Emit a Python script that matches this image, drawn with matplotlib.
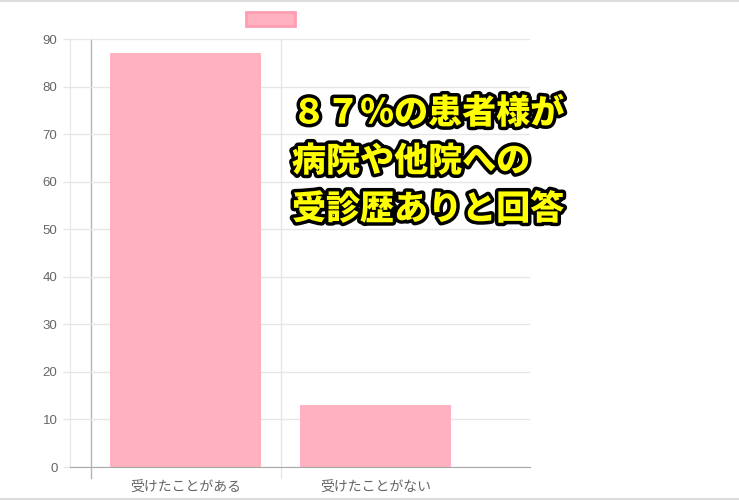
import matplotlib
matplotlib.use('Agg')
import matplotlib.pyplot as plt
from matplotlib.patches import Patch
from matplotlib.lines import Line2D
import matplotlib.patheffects as pe

plt.rcParams['font.family'] = ['Liberation Sans', 'Noto Sans CJK JP', 'DejaVu Sans']

categories = ['受けたことがある', '受けたことがない']
values = [87, 13]
yticks = [0, 10, 20, 30, 40, 50, 60, 70, 80, 90]
overlay_lines = ['８７％の患者様が', '病院や他院への', '受診歴ありと回答']

bar_fill = '#ffb1c1'
bar_edge = '#ff9db2'
grid_c = '#e6e6e6'
text_c = '#666666'

W, H = 739, 500
fig = plt.figure(figsize=(W / 100, H / 100), dpi=100)
ax = fig.add_axes([70 / W, 33 / H, 460 / W, 428 / H])

x = list(range(len(categories)))
ax.bar(x, values, width=0.795, color=bar_fill, zorder=2)

ax.set_xlim(-0.608, 1.813)
ax.set_ylim(0, 90)
ax.set_yticks(yticks)
ax.set_yticklabels([str(v) for v in yticks])
ax.tick_params(axis='y', length=5, width=1, color=grid_c, pad=4,
               labelsize=9.5, labelcolor=text_c)
ax.set_xticks(x)
ax.set_xticklabels(categories)
ax.tick_params(axis='x', length=0, pad=10, labelsize=10, labelcolor=text_c)
ax.yaxis.grid(True, color=grid_c, linewidth=1, zorder=0)

for s in ['top', 'right']:
    ax.spines[s].set_visible(False)
ax.spines['left'].set_color(grid_c)
ax.spines['bottom'].set_color('#a8a8a8')
ax.spines['bottom'].set_zorder(3)

# category boundary lines (extend below the axis like chart.js ticks)
tr = ax.get_xaxis_transform()
ax.plot([-0.5, -0.5], [-0.026, 1], color='#b5b5b5', lw=1, transform=tr,
        clip_on=False, zorder=1)
ax.plot([0.5, 0.5], [-0.026, 1], color=grid_c, lw=1, transform=tr,
        clip_on=False, zorder=1)

# legend with empty label
leg = fig.legend(handles=[Patch(facecolor=bar_fill, edgecolor=bar_edge, linewidth=2)],
                 labels=[''], loc='center', bbox_to_anchor=(270.5 / W, 1 - 19.5 / H),
                 frameon=False, handlelength=3.5, handleheight=1.2,
                 handletextpad=0, borderpad=0, borderaxespad=0, fontsize=10)

# overlay text
ys = [113, 161, 209]
for line, yy in zip(overlay_lines, ys):
    fig.text(292 / W, 1 - yy / H, line, fontsize=24.5, weight='black', color='#ffff00',
             family=['Noto Sans CJK JP'], ha='left', va='center',
             path_effects=[pe.Stroke(linewidth=5, foreground='black'), pe.Normal()])

# light page border top and bottom
fig.add_artist(Line2D([0, 1], [1 - 0.5 / H, 1 - 0.5 / H], color='#dddddd', lw=1.5))
fig.add_artist(Line2D([0, 1], [1.0 / H, 1.0 / H], color='#dddddd', lw=1.5))

fig.savefig('out.png', dpi=100)
